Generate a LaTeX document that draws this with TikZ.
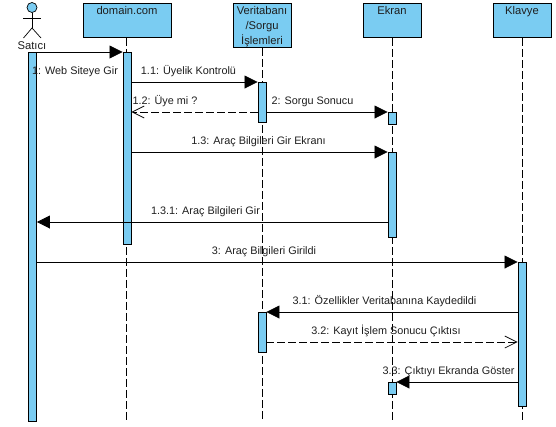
\documentclass[tikz,border=0pt]{standalone}
\usepackage{fontspec}
\setmainfont{Liberation Sans}
\usetikzlibrary{arrows.meta}
\definecolor{umlblue}{RGB}{122,204,242}
\definecolor{umltext}{RGB}{30,30,30}
\tikzset{
  headbox/.style={draw=black,line width=0.9pt,fill=umlblue,minimum width=58pt,inner sep=0pt,anchor=north},
  bar/.style={draw=black,line width=0.9pt,fill=umlblue,minimum width=8pt,inner sep=0pt,anchor=north},
  lifeline/.style={line width=0.8pt,dash pattern=on 8pt off 3pt},
  msg/.style={line width=0.8pt,-{Triangle[length=13pt,width=13pt]}},
  ret/.style={line width=0.8pt,dash pattern=on 8pt off 3pt,-{Straight Barb[length=12pt,width=12pt,line width=0.7pt]}},
  lbl/.style={text=umltext,inner sep=0pt,anchor=base,font=\fontsize{10.85}{13}\selectfont},
  hlbl/.style={text=umltext,inner sep=0pt,anchor=base,font=\fontsize{11.2}{13}\selectfont},
  actorline/.style={line width=0.7pt}
}
\begin{document}
\begin{tikzpicture}[x=1pt,y=-1pt]
\useasboundingbox (0,0) rectangle (556,426);
% lifeline heads
\node[headbox,minimum width=88pt,minimum height=34pt] (hd) at (127,3) {};
\node[hlbl] (td) at (127,14) {domain.com};
\node[headbox,minimum height=44pt] (hv) at (262,3) {};
\node[hlbl] (tv1) at (262,14) {Veritabanı};
\node[hlbl] (tv2) at (262,29.5) {/Sorgu};
\node[hlbl] (tv3) at (262,44) {İşlemleri};
\node[headbox,minimum height=34pt] (he) at (392,3) {};
\node[hlbl] (te) at (392,14) {Ekran};
\node[headbox,minimum height=34pt] (hk) at (522,3) {};
\node[hlbl] (tk) at (522,14) {Klavye};
% actor
\node[circle,draw=black,line width=0.7pt,fill=umlblue,minimum size=10pt,inner sep=0pt] (head) at (32,7.5) {};
\coordinate (hip) at (32,28);
\coordinate (armL) at (23,18);
\coordinate (armR) at (41,18);
\coordinate (legL) at (23.5,38);
\coordinate (legR) at (41,38);
\draw[actorline] (head.south) -- (hip);
\draw[actorline] (armL) -- (armR);
\draw[actorline] (legL) -- (hip) -- (legR);
\node[hlbl] (satici) at (32,49.5) {Satıcı};
% lifeline ends
\coordinate (ed) at (126.5,421);
\coordinate (ev) at (262,421);
\coordinate (ee) at (392,421);
\coordinate (ek) at (522,421);
\draw[lifeline] (hd.south -| ed) -- (ed);
\draw[lifeline] (hv.south) -- (ev);
\draw[lifeline] (he.south) -- (ee);
\draw[lifeline] (hk.south) -- (ek);
% activations
\node[bar,minimum height=369pt] (ba) at (32.5,52) {};
\node[bar,minimum height=192pt] (bd) at (127,52) {};
\node[bar,minimum height=40pt] (bv1) at (262,82) {};
\node[bar,minimum height=12pt] (be1) at (392,112) {};
\node[bar,minimum height=85pt] (be2) at (392,152) {};
\node[bar,minimum height=144pt] (bk) at (522,262) {};
\node[bar,minimum height=40pt] (bv2) at (262,312) {};
\node[bar,minimum height=12pt] (be3) at (392,382) {};
% messages
\draw[msg] (ba.east |- bd.north) -- (bd.north west);
\draw[msg] (bd.east |- bv1.north) -- (bv1.north west);
\draw[ret] (bv1.west |- be1.north) -- (bd.east |- be1.north);
\draw[msg] (bv1.east |- be1.north) -- (be1.north west);
\draw[msg] (bd.east |- be2.north) -- (be2.north west);
\coordinate (r131) at (0,222);
\draw[msg] (be2.west |- r131) -- (ba.east |- r131);
\draw[msg] (ba.east |- bk.north) -- (bk.north west);
\draw[msg] (bk.west |- bv2.north) -- (bv2.north east);
\coordinate (r32) at (0,342);
\draw[ret] (bv2.east |- r32) -- (bk.west |- r32);
\draw[msg] (bk.west |- be3.north) -- (be3.north east);
% labels
\node[lbl] (l1) at (75,74) {1: Web Siteye Gir};
\node[lbl] (l2) at (188.5,74) {1.1: Üyelik Kontrolü};
\node[lbl] (l3) at (165,104) {1.2: Üye mi ?};
\node[lbl] (l4) at (312.5,104) {2: Sorgu Sonucu};
\node[lbl] (l5) at (258.5,144) {1.3: Araç Bilgileri Gir Ekranı};
\node[lbl] (l6) at (205.5,214) {1.3.1: Araç Bilgileri Gir};
\node[lbl] (l7) at (264,254) {3: Araç Bilgileri Girildi};
\node[lbl] (l8) at (384.5,304) {3.1: Özellikler Veritabanına Kaydedildi};
\node[lbl] (l9) at (386,334) {3.2: Kayıt İşlem Sonucu Çıktısı};
\node[lbl] (l10) at (448.5,374) {3.3: Çıktıyı Ekranda Göster};
\end{tikzpicture}
\end{document}
